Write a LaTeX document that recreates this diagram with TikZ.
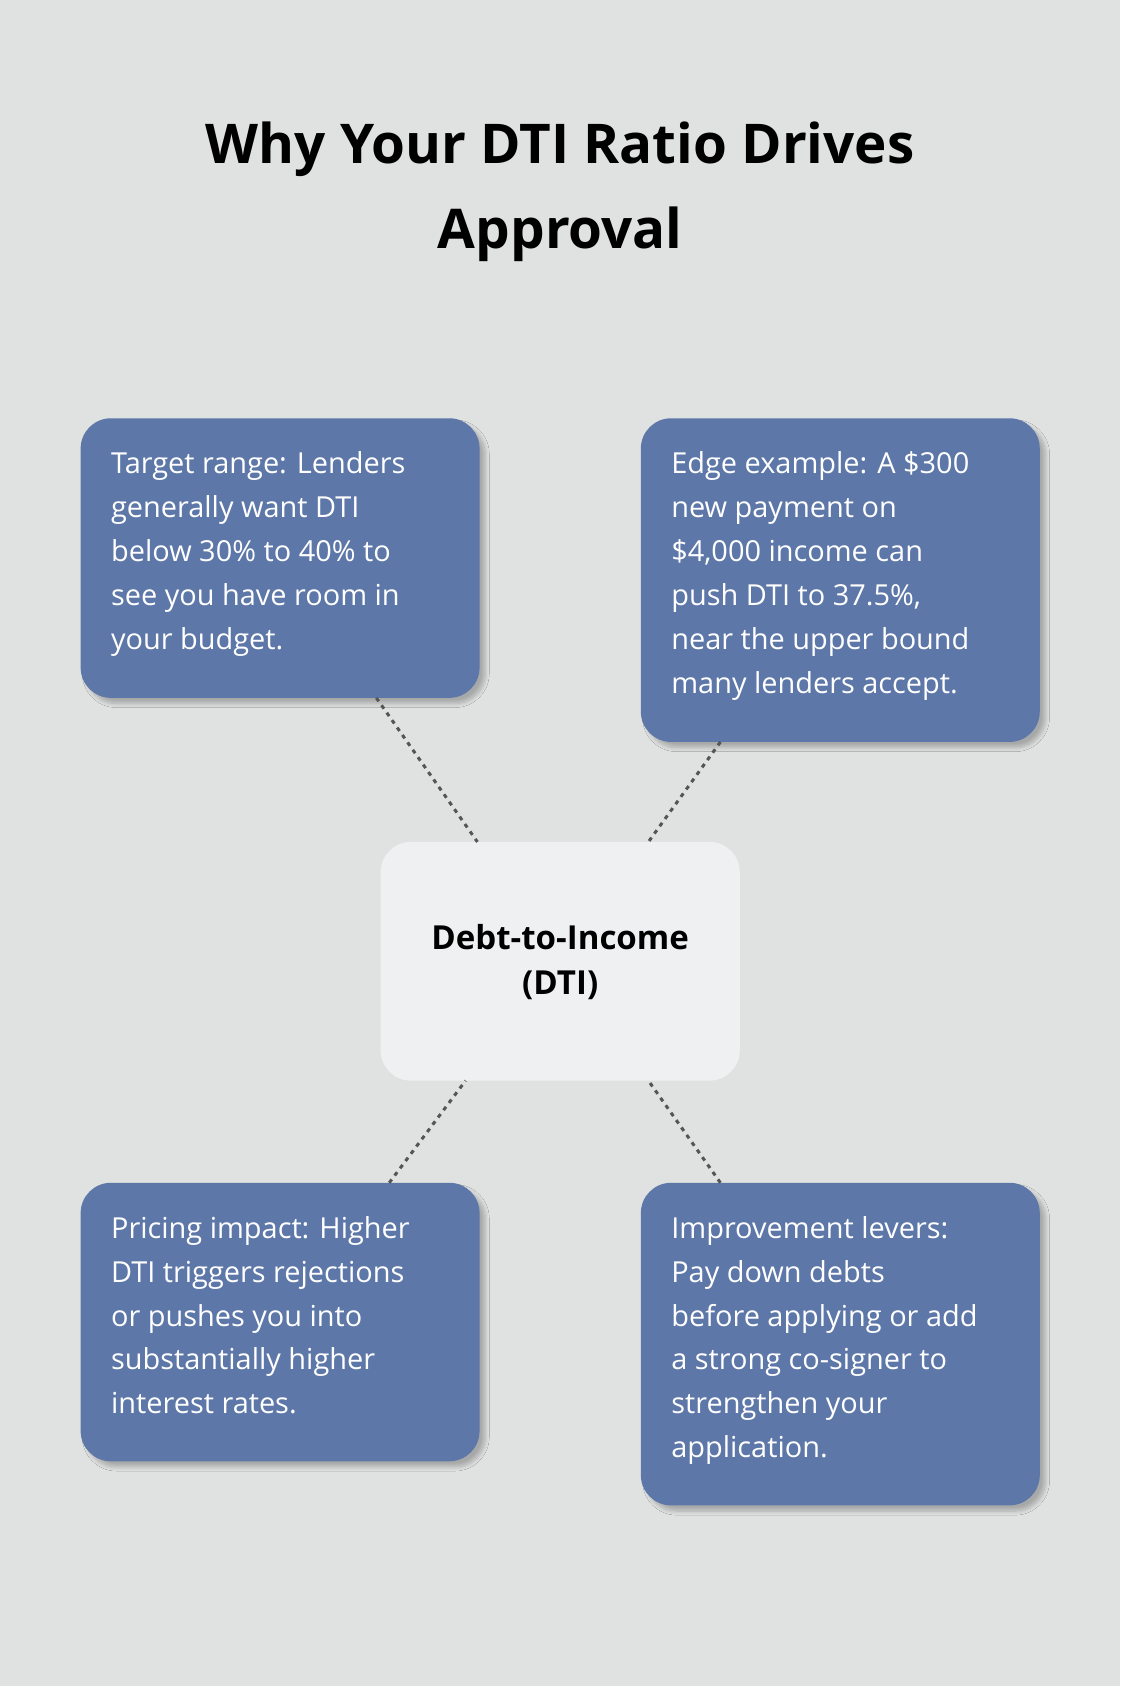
\documentclass[tikz,border=0pt]{standalone}
\usepackage{fontspec}
\setmainfont{Open Sans}
\usetikzlibrary{calc,shadows.blur}
\definecolor{bg}{HTML}{E0E2E1}
\definecolor{boxc}{HTML}{5D77A8}
\definecolor{cen}{HTML}{EEF0F2}
\definecolor{dotc}{HTML}{555555}
\begin{document}
\begin{tikzpicture}[x=0.02cm,y=-0.02cm,
 box/.style={fill=boxc,rounded corners=16pt,blur shadow={shadow blur steps=8,shadow xshift=3pt,shadow yshift=-3pt,shadow opacity=25}},
 txt/.style={anchor=north west,inner sep=0pt,align=left,text=white,font=\fontsize{15.3}{23.2}\selectfont},
 con/.style={dotc,line width=1.6pt,dash pattern=on 2.2pt off 2.6pt}]
\fill[bg] (0,0) rectangle (1042,1568);
\useasboundingbox (0,0) rectangle (1042,1568);
\node[inner sep=0pt,align=center,font=\fontsize{29}{45}\bfseries\selectfont] (title) at (521,178) {Why Your DTI Ratio Drives\\Approval};
\path[box] (75,389) rectangle (446,649);
\path[box] (596,389) rectangle (967,690);
\path[box] (75,1100) rectangle (446,1359);
\path[box] (596,1100) rectangle (967,1400);
\path[fill=cen,rounded corners=16pt] (354,783) rectangle (688,1005);
\node[txt] (t1) at (103,420) {Target range: Lenders\\generally want DTI\\below 30\% to 40\% to\\see you have room in\\your budget.};
\node[txt] (t2) at (624,420) {Edge example: A \$300\\new payment on\\\$4,000 income can\\push DTI to 37.5\%,\\near the upper bound\\many lenders accept.};
\node[txt] (t3) at (103,1131) {Pricing impact: Higher\\DTI triggers rejections\\or pushes you into\\substantially higher\\interest rates.};
\node[txt] (t4) at (624,1131) {Improvement levers:\\Pay down debts\\before applying or add\\a strong co-signer to\\strengthen your\\application.};
\node[inner sep=0pt,align=center,font=\fontsize{17.5}{24}\bfseries\selectfont] (c) at (521,895) {Debt-to-Income\\(DTI)};
\coordinate (a1) at (350,649); \coordinate (b1) at (444,783);
\coordinate (a2) at (670,690); \coordinate (b2) at (603,783);
\coordinate (a3) at (362,1100); \coordinate (b3) at (433,1005);
\coordinate (a4) at (670,1100); \coordinate (b4) at (603,1005);
\draw[con] (a1) -- (b1);
\draw[con] (a2) -- (b2);
\draw[con] (a3) -- (b3);
\draw[con] (a4) -- (b4);
\end{tikzpicture}
\end{document}
